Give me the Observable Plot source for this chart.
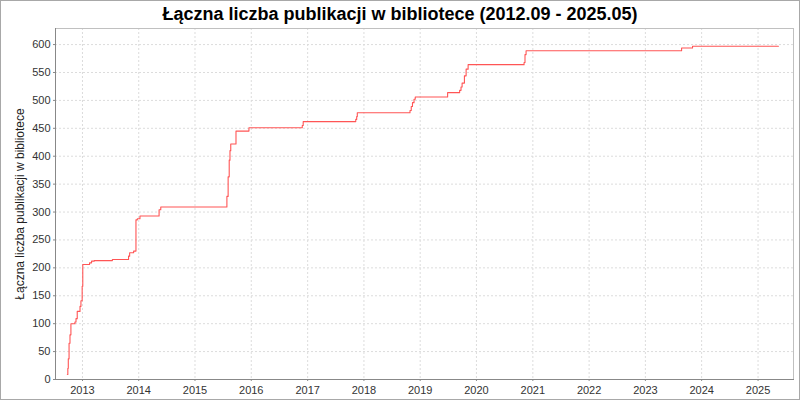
<!DOCTYPE html>
<html>
<head>
<meta charset="utf-8">
<script src="https://cdn.jsdelivr.net/npm/d3@7"></script>
<script src="https://cdn.jsdelivr.net/npm/@observablehq/plot@0.6"></script>
<style>
  html, body { margin: 0; padding: 0; background: #fff; }
  #wrap { position: relative; width: 800px; height: 400px; overflow: hidden; background: #fff; }
  #title { position: absolute; left: 0; top: 0; width: 800px; height: 28px; line-height: 28px; text-align: center;
           font-family: "Liberation Sans", Arial, sans-serif; font-weight: bold; font-size: 18px; color: #000; z-index: 2; }
  #chart { position: absolute; left: 0; top: 0; }
  #border { position: absolute; left: 0; top: 0; width: 800px; height: 400px; box-sizing: border-box; border: 1px solid #a8a8a8; pointer-events: none; z-index: 3; }
</style>
</head>
<body>
<div id="wrap">
  <div id="title">Łączna liczba publikacji w bibliotece (2012.09 - 2025.05)</div>
  <div id="chart"></div>
  <div id="border"></div>
</div>
<script>
// Step points: date where the cumulative total changes, and the new total
const dates = [
  "2012-09-25", "2012-09-28", "2012-10-01", "2012-10-06", "2012-10-12", "2012-10-18",
  "2012-11-13", "2012-11-20", "2012-11-28", "2012-12-16", "2012-12-22", "2012-12-30",
  "2013-01-03", "2013-02-16", "2013-03-01", "2013-03-18", "2013-07-14", "2013-10-27",
  "2013-11-03", "2013-11-29", "2013-12-14", "2013-12-23", "2014-01-09", "2014-05-13",
  "2014-05-24", "2015-07-27", "2015-08-04", "2015-08-11", "2015-08-16", "2015-08-21",
  "2015-09-24", "2015-12-17", "2016-11-27", "2016-12-03", "2017-11-09", "2017-11-15",
  "2017-11-19", "2018-10-27", "2018-11-04", "2018-11-12", "2018-11-22", "2018-11-30",
  "2019-06-28", "2019-09-14", "2019-09-23", "2019-09-30", "2019-10-15", "2019-10-26",
  "2019-11-08", "2020-11-05", "2020-11-11", "2020-11-18", "2023-08-24", "2023-11-03",
  "2025-05-13"
];
const totals = [
  9, 20, 37, 65, 80, 100,
  103, 109, 122, 131, 141, 167,
  206, 209, 212, 213, 215, 221,
  227, 230, 286, 288, 293, 304,
  309, 328, 363, 393, 410, 422,
  445, 451, 455, 462, 466, 471,
  478, 482, 489, 496, 502, 506,
  514, 518, 524, 531, 544, 556,
  564, 568, 582, 589, 594, 597,
  597
];
const yearTicks = [2013, 2014, 2015, 2016, 2017, 2018, 2019, 2020, 2021, 2022, 2023, 2024, 2025];
const valueTicks = [0, 50, 100, 150, 200, 250, 300, 350, 400, 450, 500, 550, 600];
const xDomain = ["2012-07-10", "2025-08-19"];
const yDomain = [0, 628.8];
const yLabel = "Łączna liczba publikacji w bibliotece";

const data = dates.map((d, i) => ({ date: new Date(d), total: totals[i] }));
const xTickDates = yearTicks.map(y => new Date(Date.UTC(y, 0, 1)));

const gridStyle = { stroke: "#dcdcdc", strokeOpacity: 1, strokeWidth: 1, strokeDasharray: "2,2" };

const chart = Plot.plot({
  width: 800,
  height: 400,
  marginTop: 28,
  marginBottom: 21,
  marginLeft: 55,
  marginRight: 7,
  style: { fontFamily: "'Liberation Sans', Arial, sans-serif", fontSize: "11px", color: "#333", background: "transparent" },
  x: { type: "utc", domain: xDomain.map(d => new Date(d)) },
  y: { domain: yDomain },
  marks: [
    Plot.gridX(xTickDates, gridStyle),
    Plot.gridY(valueTicks, gridStyle),
    Plot.frame({ stroke: "#c0c0c0" }),
    Plot.line(data, { x: "date", y: "total", curve: "step-after", stroke: "#ff5555", strokeWidth: 1.1 }),
    Plot.axisX(xTickDates, { tickFormat: d3.utcFormat("%Y"), tickSize: 2, tickPadding: 5, stroke: "#888", fill: "#333", label: null }),
    Plot.axisY(valueTicks, { tickSize: 2, tickPadding: 3, stroke: "#888", fill: "#333", label: null }),
    Plot.frame({ anchor: "left", stroke: "#888" }),
    Plot.frame({ anchor: "bottom", stroke: "#888" }),
    Plot.text([yLabel], { frameAnchor: "left", dx: -35, rotate: -90, textAnchor: "middle", lineAnchor: "middle", fontSize: 12, fill: "#222", text: d => d })
  ]
});
document.getElementById("chart").appendChild(chart);
</script>
</body>
</html>
